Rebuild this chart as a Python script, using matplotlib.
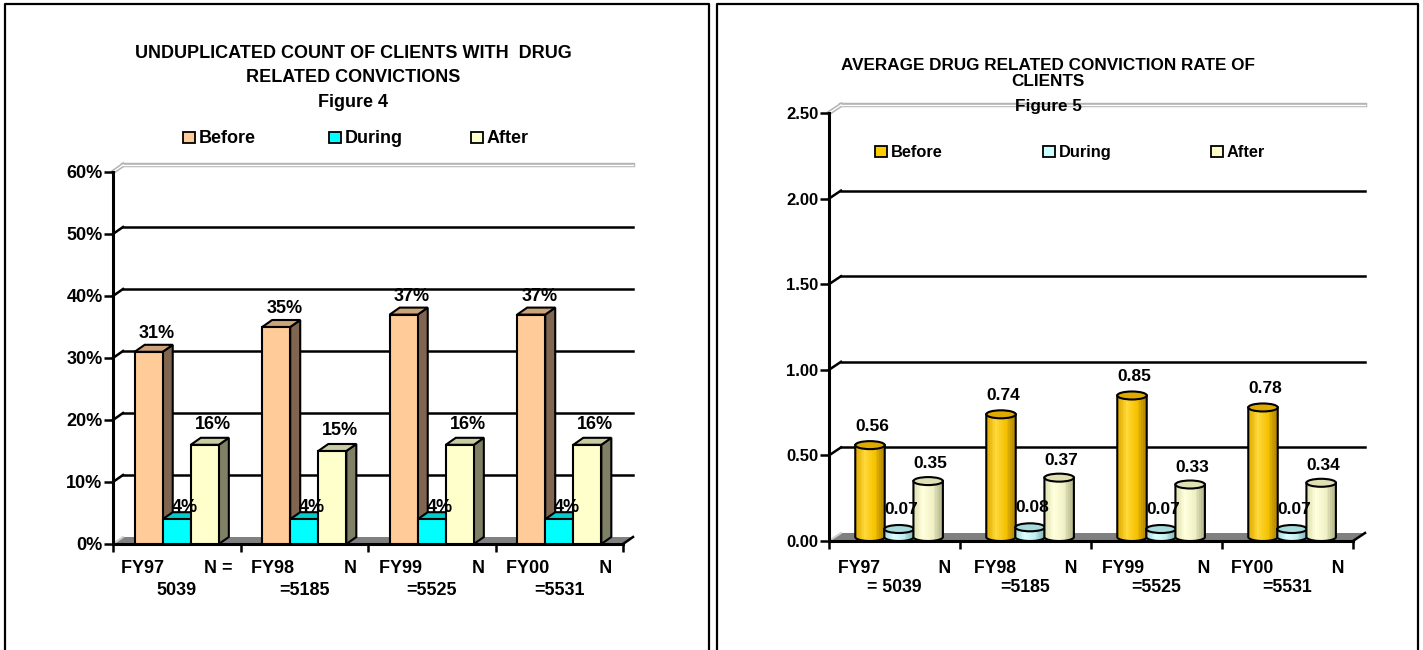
import numpy as np
import matplotlib
matplotlib.use("Agg")
import matplotlib.pyplot as plt
from matplotlib.patches import Polygon, Rectangle, Ellipse
from matplotlib.lines import Line2D
from matplotlib.colors import LinearSegmentedColormap
from matplotlib.ticker import FuncFormatter

plt.rcParams["font.family"] = ["Liberation Sans", "DejaVu Sans"]
plt.rcParams["font.weight"] = "bold"

SERIES = ["Before", "During", "After"]

# Figure 4 - unduplicated count of clients with drug related convictions (%)
fig4_labels = ["FY97        N =\n5039", "FY98          N\n=5185",
               "FY99          N\n=5525", "FY00          N\n=5531"]
fig4_before = [31, 35, 37, 37]
fig4_during = [4, 4, 4, 4]
fig4_after = [16, 15, 16, 16]
fig4_ticks = [0, 10, 20, 30, 40, 50, 60]

# Figure 5 - average drug related conviction rate of clients
fig5_labels = ["FY97            N\n= 5039", "FY98          N\n=5185",
               "FY99           N\n=5525", "FY00            N\n=5531"]
fig5_before = [0.56, 0.74, 0.85, 0.78]
fig5_during = [0.07, 0.08, 0.07, 0.07]
fig5_after = [0.35, 0.37, 0.33, 0.34]
fig5_ticks = [0, 0.5, 1.0, 1.5, 2.0, 2.5]

W, H = 1423, 650
fig = plt.figure(figsize=(W / 100, H / 100), dpi=100)


def fx(x):
    return x / W


def fy(y):
    return 1 - y / H


def px_axes(x0, y_bottom, x1, y_top):
    return fig.add_axes([fx(x0), fy(y_bottom), (x1 - x0) / W, (y_bottom - y_top) / H])


def px_to_data(ax, px, py):
    bb = ax.get_window_extent()
    x0, x1 = ax.get_xlim()
    y0, y1 = ax.get_ylim()
    return px * (x1 - x0) / bb.width, py * (y1 - y0) / bb.height


def frame(xs, ys):
    fig.add_artist(Line2D([fx(x) for x in xs], [fy(y) for y in ys],
                          transform=fig.transFigure, color="black", lw=1.6))


def title(x, baselines, lines, size):
    for y, s in zip(baselines, lines):
        fig.text(fx(x), fy(y), s, ha="center", va="baseline", fontsize=size, fontweight="bold")


def legend(xs, y_top, colors, size):
    for x, name, c in zip(xs, SERIES, colors):
        fig.add_artist(Rectangle((fx(x), fy(y_top + 11)), 12 / W, 11 / H,
                                 transform=fig.transFigure, fc=c, ec="black", lw=1.3))
        fig.text(fx(x + 16), fy(y_top + 11), name, ha="left", va="baseline",
                 fontsize=size, fontweight="bold")


def setup(ax, ylim, ticks, fmt, labels, tick_size, label_size, pad, spacing):
    ax.set_xlim(-0.5, 3.5)
    ax.set_ylim(*ylim)
    ax.patch.set_visible(False)
    for s in ("top", "right"):
        ax.spines[s].set_visible(False)
    for s in ("left", "bottom"):
        ax.spines[s].set_linewidth(2.2)
        ax.spines[s].set_zorder(2)
    ax.set_yticks(ticks)
    ax.yaxis.set_major_formatter(FuncFormatter(fmt))
    ax.tick_params(axis="y", length=6.5, width=1.8, pad=1, labelsize=tick_size)
    ax.set_xticks(range(len(labels)))
    ax.set_xticklabels(labels)
    for lab in ax.get_xticklabels():
        lab.set_linespacing(spacing)
    ax.set_xticks([-0.5, 0.5, 1.5, 2.5, 3.5], minor=True)
    ax.tick_params(axis="x", which="major", length=0, pad=pad, labelsize=label_size)
    ax.tick_params(axis="x", which="minor", length=6, width=1.8)


def walls(ax, ticks, dx, dy):
    x0, x1 = ax.get_xlim()
    for t in ticks[1:-1]:
        ax.plot([x0, x0 + dx], [t, t + dy], color="black", lw=1.8, clip_on=False, zorder=1)
        ax.plot([x0 + dx, x1 + dx], [t + dy, t + dy], color="black", lw=1.8,
                clip_on=False, zorder=1)
    # top edge of the back wall, drawn as a thin grey double line
    t = ticks[-1]
    for lw, c in ((3.2, "#B4B4B4"), (1.0, "white")):
        ax.plot([x0, x0 + dx], [t, t + dy], color=c, lw=lw, clip_on=False, zorder=1)
        ax.plot([x0 + dx, x1 + dx], [t + dy, t + dy], color=c, lw=lw, clip_on=False, zorder=1)
    # floor
    ax.add_patch(Polygon([(x0, 0), (x1, 0), (x1 + dx, dy), (x0 + dx, dy)],
                         fc="#808080", ec="none", clip_on=False, zorder=1.5))
    ax.plot([x0, x0 + dx], [0, dy], color="#D0D0D0", lw=1.5, clip_on=False, zorder=1.6)
    ax.plot([x1, x1 + dx], [0, dy], color="black", lw=1.8, clip_on=False, zorder=1.6)


def boxes(ax, series, offsets, w, faces, dx, dy, label_dy, fmt, size):
    z = 3
    for i in range(len(series[0])):
        for j, vals in enumerate(series):
            v = vals[i]
            xc = i + offsets[j]
            xl, xr = xc - w / 2, xc + w / 2
            front, top, side = faces[j]
            ax.add_patch(Polygon([(xr, 0), (xr + dx, dy), (xr + dx, v + dy), (xr, v)],
                                 fc=side, ec="black", lw=1.5, zorder=z, clip_on=False))
            ax.add_patch(Polygon([(xl, v), (xr, v), (xr + dx, v + dy), (xl + dx, v + dy)],
                                 fc=top, ec="black", lw=1.5, zorder=z + 0.1, clip_on=False))
            ax.bar(xc, v, w, color=front, edgecolor="black", linewidth=1.5, zorder=z + 0.2)
            ax.annotate(fmt(v), (xc, v + dy), xytext=(8, label_dy[j]), textcoords="offset pixels",
                        ha="center", va="baseline", fontsize=size, fontweight="bold", zorder=100)
            z += 1


def cylinders(ax, series, offsets, w, shades, tops, eh, label_dy, fmt, size):
    z = 3
    t = np.linspace(np.pi, 2 * np.pi, 60)
    for i in range(len(series[0])):
        for j, vals in enumerate(series):
            v = vals[i]
            xc = i + offsets[j]
            base = np.column_stack([xc + w / 2 * np.cos(t), eh / 2 + eh / 2 * np.sin(t)])
            outline = np.vstack([[xc - w / 2, v], base, [xc + w / 2, v]])
            clip = Polygon(outline, closed=True, fc="none", ec="none")
            ax.add_patch(clip)
            cmap = LinearSegmentedColormap.from_list("shade", shades[j])
            im = ax.imshow(np.linspace(0, 1, 16)[np.newaxis, :], cmap=cmap,
                           extent=(xc - w / 2, xc + w / 2, 0, v), aspect="auto",
                           interpolation="nearest", origin="lower", zorder=z)
            im.set_clip_path(clip)
            ax.plot(outline[:, 0], outline[:, 1], color="black", lw=1.5, zorder=z + 0.1)
            ax.add_patch(Ellipse((xc, v), w, eh, fc=tops[j], ec="black", lw=1.5, zorder=z + 0.2))
            ax.annotate(fmt(v), (xc, v), xytext=(2, label_dy[j]), textcoords="offset pixels",
                        ha="center", va="baseline", fontsize=size, fontweight="bold", zorder=100)
            z += 1


# panel frames
frame([5, 5, 709, 709], [660, 4, 4, 660])
frame([717, 717, 1418, 1418], [660, 4, 4, 660])

# ---- Figure 4 ----
ax4 = px_axes(113, 544, 623, 172)
setup(ax4, (0, 60), fig4_ticks, lambda v, p: f"{v:.0f}%", fig4_labels, 13, 13, 11.5, 1.35)
dx4, dy4 = px_to_data(ax4, 10, 7)
walls(ax4, fig4_ticks, dx4, dy4)
boxes(ax4, [fig4_before, fig4_during, fig4_after], [-0.22, 0.0, 0.22], 0.22,
      [("#FFCC99", "#CCA37A", "#806650"),
       ("#00FFFF", "#00CCCC", "#008080"),
       ("#FFFFCC", "#CCCCA3", "#808066")],
      dx4, dy4, [7, 0, 9], lambda v: f"{v}%", 13)
title(353, [58, 82, 107], ["UNDUPLICATED COUNT OF CLIENTS WITH  DRUG",
                           "RELATED CONVICTIONS", "Figure 4"], 13)
legend([183, 329, 471], 132, ["#FFCC99", "#00FFFF", "#FFFFCC"], 13)

# ---- Figure 5 ----
ax5 = px_axes(829, 541, 1353, 113)
setup(ax5, (0, 2.5), fig5_ticks, lambda v, p: f"{v:.2f}", fig5_labels, 12, 12.7, 13.5, 1.2)
dx5, dy5 = px_to_data(ax5, 12, 8)
walls(ax5, fig5_ticks, dx5, dy5)
cylinders(ax5, [fig5_before, fig5_during, fig5_after], [-0.187, 0.035, 0.257], 0.225,
          [["#E0AE00", "#FFD83A", "#F5C200", "#B08400"],
           ["#A8DCE0", "#DDFFFF", "#C2EEF0", "#86B8BC"],
           ["#E2E2B4", "#FFFFDE", "#F0F0C6", "#B4B48A"]],
          ["#DDAA00", "#A6DADD", "#E0E0B4"],
          dy5, [14, 15, 13], lambda v: f"{v:.2f}", 12.5)
title(1048, [70, 86, 111], ["AVERAGE DRUG RELATED CONVICTION RATE OF",
                            "CLIENTS", "Figure 5"], 12.3)
legend([875, 1043, 1211], 146, ["#FFCC00", "#CCFFFF", "#FFFFCC"], 11.8)

fig.savefig("out.png", dpi=100)
